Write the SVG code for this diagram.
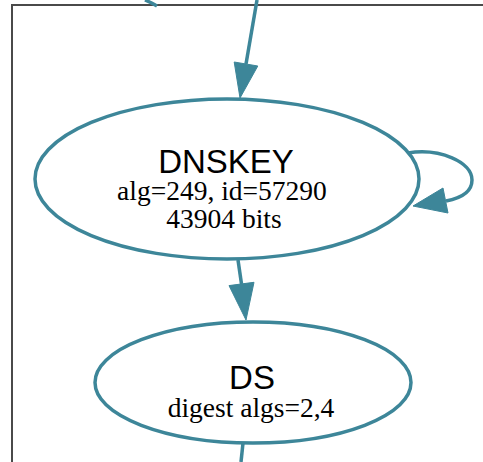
<svg xmlns="http://www.w3.org/2000/svg" width="483" height="462" viewBox="0 0 483 462">
<style>
.node{fill:#ffffff;stroke:#3d8699;stroke-width:3.5}
.edge{fill:none;stroke:#3d8699;stroke-width:3.5}
.head{fill:#3d8699;stroke:#3d8699;stroke-width:1}
.t1{font-family:"Liberation Sans",Arial,sans-serif;font-size:33px;text-anchor:middle;fill:#000}
.t2{font-family:"Liberation Serif","Times New Roman",serif;font-size:27.5px;text-anchor:middle;fill:#000}
</style>
<rect x="12" y="5" width="490" height="480" fill="#ffffff" stroke="#4a4a4a" stroke-width="2"/>
<g id="connectors">
<path class="edge" d="M145,0 Q152,3 157,6"/>
<path class="edge" d="M257,0 L246,64"/>
<polygon class="head" points="234.2,62 257.8,66 240,98"/>
<path class="edge" d="M408,153 C440,148 472,162 472,180 C472,192 462,198 446,201"/>
<polygon class="head" points="443,188 448,213 413,206"/>
<path class="edge" d="M238,260 L241.5,284"/>
<polygon class="head" points="229,285.6 254,282.3 246,320"/>
<path class="edge" d="M243,443 L241,462"/>
</g>
<g id="dnskey">
<ellipse class="node" cx="227" cy="179" rx="192" ry="80"/>
<text class="t1" x="226" y="173">DNSKEY</text>
<text class="t2" x="222" y="200">alg=249, id=57290</text>
<text class="t2" x="224" y="228">43904 bits</text>
</g>
<g id="ds">
<ellipse class="node" cx="253" cy="382.5" rx="158" ry="60.5"/>
<text class="t1" x="252" y="389">DS</text>
<text class="t2" x="251" y="417">digest algs=2,4</text>
</g>
</svg>
